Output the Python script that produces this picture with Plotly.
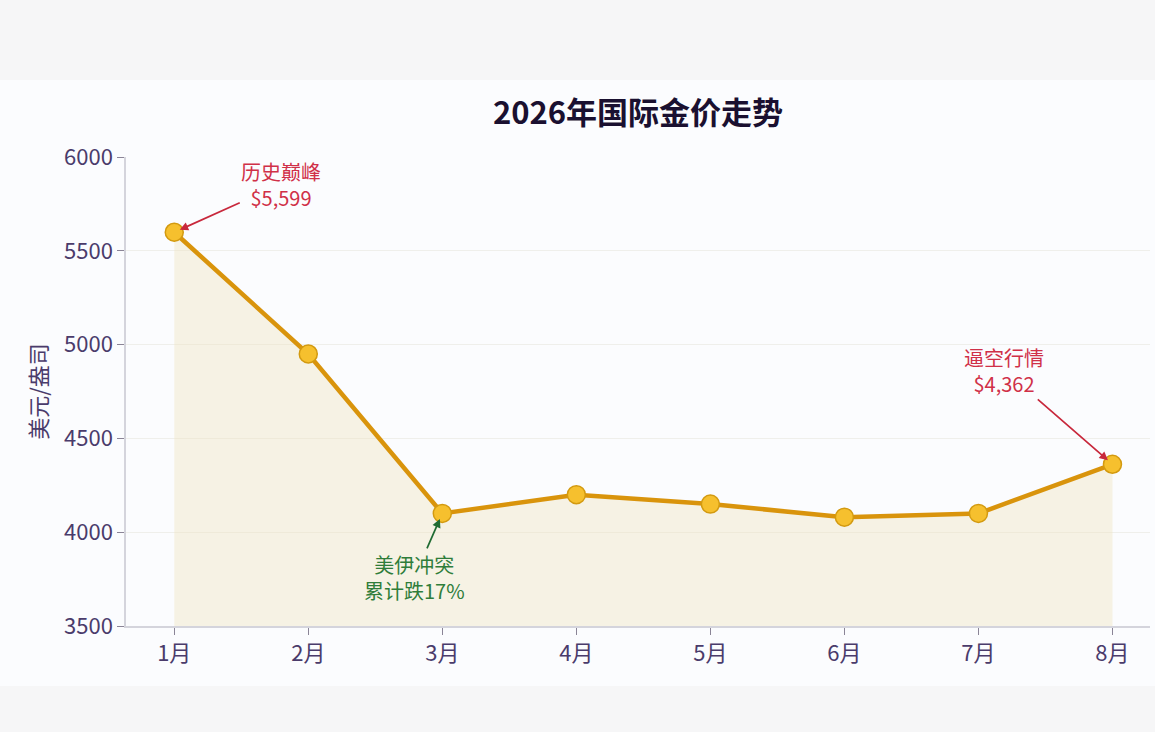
import plotly.graph_objs as go

# Data
months = ['1月', '2月', '3月', '4月', '5月', '6月', '7月', '8月']
price = [5599, 4950, 4100, 4200, 4150, 4080, 4100, 4362]
y_ticks = [3500, 4000, 4500, 5000, 5500, 6000]

font_cjk = 'Noto Sans CJK SC'
tick_color = '#4a3b6b'

data = [go.Scatter(x=months, y=price,
                   mode='lines+markers',
                   line=dict(color='#d9940c', width=4.5),
                   marker=dict(size=18, color='#f6c02e',
                               line=dict(color='#d39a10', width=1.5)),
                   fill='tozeroy',
                   fillcolor='rgba(240,228,190,0.4)',
                   hoverinfo='x+y')]

layout = go.Layout(
    title=dict(text='<b>2026年国际金价走势</b>', x=0.5, xref='paper',
               y=0.845, yref='container', yanchor='middle',
               font=dict(family=font_cjk, size=31, color='#1a1030')),
    font=dict(family=font_cjk, color=tick_color),
    paper_bgcolor='#f6f6f7',
    plot_bgcolor='#fafbfe',
    width=1155, height=732,
    margin=dict(l=126, r=5, t=157, b=106),
    showlegend=False,
    xaxis=dict(range=[-0.36, 7.28], showgrid=False, zeroline=False,
               showline=True, linecolor='#d4d4dc', linewidth=1.5,
               ticks='outside', ticklen=7, tickcolor='#8a8496',
               tickfont=dict(size=22, color=tick_color)),
    yaxis=dict(range=[3500, 6000], tickvals=y_ticks, zeroline=False,
               showgrid=True, gridcolor='#efefeb', gridwidth=1,
               showline=True, linecolor='#d4d4dc', linewidth=1.5,
               ticks='outside', ticklen=7, tickcolor='#8a8496',
               tickfont=dict(size=22, color=tick_color),
               title=dict(text='美元/盎司', standoff=10,
                          font=dict(size=22, color=tick_color))),
    shapes=[dict(type='rect', xref='paper', yref='paper', layer='below',
                 x0=-0.2, x1=1.1, y0=-0.128, y1=1.164,
                 fillcolor='#fbfcfe', line=dict(width=0))],
    annotations=[
        dict(x=0, y=5599, xref='x', yref='y', text='历史巅峰<br>$5,599',
             showarrow=True, ax=107, ay=-48, arrowhead=2, arrowsize=1,
             arrowwidth=1.7, arrowcolor='#c8283c', standoff=6,
             font=dict(size=20, color='#d03048')),
        dict(x=2, y=4100, xref='x', yref='y', text='美伊冲突<br>累计跌17%',
             showarrow=True, ax=-28, ay=64, arrowhead=2, arrowsize=1,
             arrowwidth=1.7, arrowcolor='#1f6b32', standoff=6,
             font=dict(size=20, color='#2f7d3a')),
        dict(x=7, y=4362, xref='x', yref='y', text='逼空行情<br>$4,362',
             showarrow=True, ax=-108, ay=-94, arrowhead=2, arrowsize=1,
             arrowwidth=1.7, arrowcolor='#c8283c', standoff=6,
             font=dict(size=20, color='#d03048')),
    ])

fig = go.Figure(data=data, layout=layout)
# drop the browser's default body margin so the figure fills the window
fig.write_html('out.html', config={'displayModeBar': False},
               post_script="document.body.style.margin='0';")
